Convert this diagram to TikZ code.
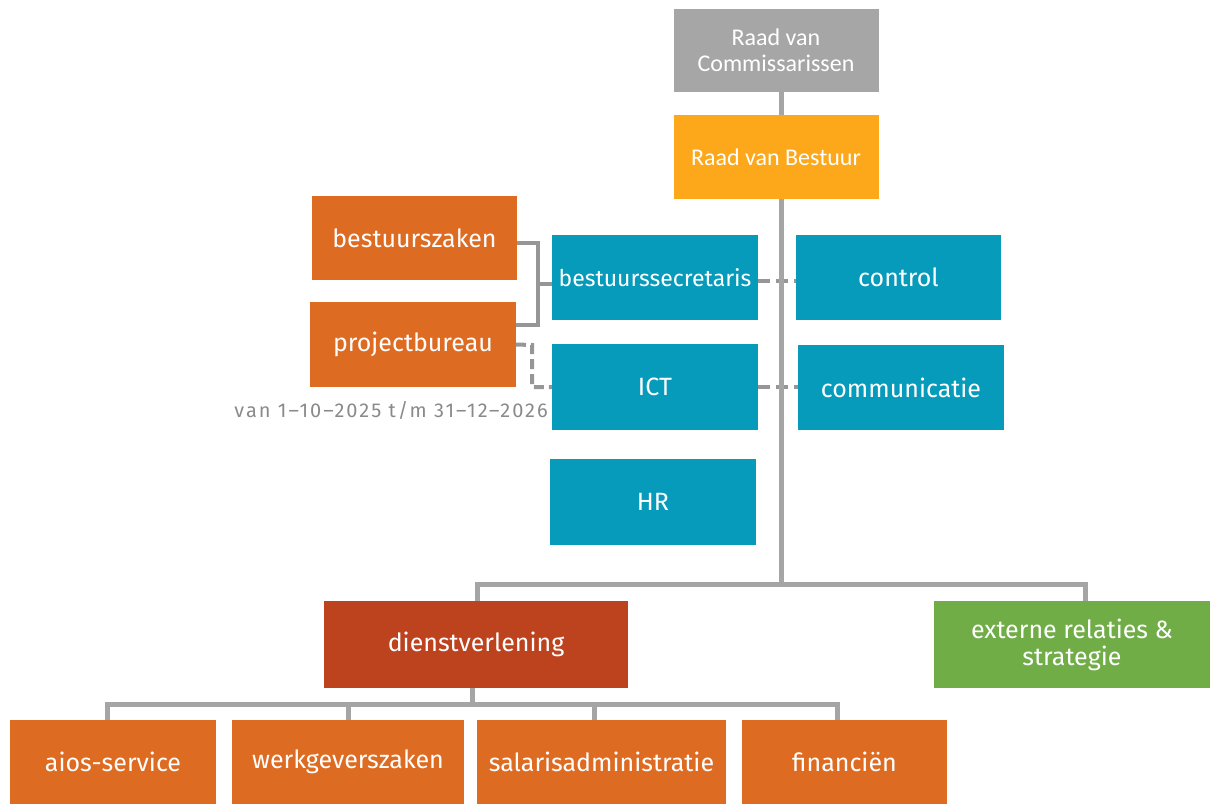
\documentclass[tikz,border=0pt]{standalone}
\usepackage{fontspec}
\setmainfont{Fira Sans}
\newfontfamily\rvfont{Carlito}
\newfontfamily\boxfont{Fira Sans}
\newfontfamily\notefont[LetterSpace=10]{Fira Sans}
\usetikzlibrary{calc}
\definecolor{lineGray}{HTML}{A5A5A5}
\definecolor{dashGray}{HTML}{969696}
\definecolor{rvcGray}{HTML}{A6A6A6}
\definecolor{rvbOrange}{HTML}{FCA81A}
\definecolor{boxOrange}{HTML}{DE6B22}
\definecolor{boxTeal}{HTML}{069BBB}
\definecolor{boxRust}{HTML}{BD431F}
\definecolor{boxGreen}{HTML}{70AD47}
\definecolor{noteGray}{HTML}{8A8A8A}
\tikzset{
  box/.style={rectangle, inner sep=0pt, outer sep=0pt, text=white, align=center,
    font=\boxfont\fontsize{25}{27}\selectfont},
  rvbox/.style={box, font=\rvfont\fontsize{24}{26}\selectfont},
  sz/.style 2 args={minimum width=#1pt, minimum height=#2pt},
  conn/.style={draw=lineGray, line width=5pt},
  bracketline/.style={draw=dashGray, line width=4pt},
  dashline/.style={draw=dashGray, line width=4pt, dash pattern=on 12pt off 6pt},
}
\begin{document}
\begin{tikzpicture}[x=1pt,y=-1pt]
\useasboundingbox (0,0) rectangle (1210,804);

% top
\node[rvbox, fill=rvcGray, sz={205}{83}] (rvc) at (776,50.5) {Raad van\\Commissarissen};
\node[rvbox, fill=rvbOrange, sz={205}{84}] (rvb) at (776,157) {Raad van Bestuur};

% staff
\node[box, fill=boxOrange, sz={205}{84}] (bz) at (414.5,238) {bestuurszaken};
\node[box, fill=boxOrange, sz={206}{85}] (pb) at (413,344.5) {projectbureau};
\node[box, fill=boxTeal, sz={206}{85}, font=\boxfont\fontsize{23}{25}\selectfont] (bs) at (655,277.5) {bestuurssecretaris};
\node[box, fill=boxTeal, sz={206}{86}] (ict) at (655,387) {ICT};
\node[box, fill=boxTeal, sz={206}{86}] (hr) at (653,502) {HR};
\node[box, fill=boxTeal, sz={205}{85}] (ctrl) at (898.5,277.5) {control};
\node[box, fill=boxTeal, sz={206}{85}] (comm) at (901,387.5) {communicatie};
\node[anchor=base east, inner sep=0pt, text=noteGray, font=\notefont\fontsize{20}{22}\selectfont] (note) at (548,417) {van 1–10–2025 t/m 31–12–2026};

% departments
\node[box, fill=boxRust, sz={304}{87}] (dv) at (476,644.5) {dienstverlening};
\node[box, fill=boxGreen, sz={276}{87}] (ext) at (1072,644.5) {externe relaties \&\\strategie};

\node[box, fill=boxOrange, sz={206}{84}] (aios) at (113,762) {aios-service};
\node[box, fill=boxOrange, sz={232}{84}] (werk) at (348,762) {werkgeverszaken};
\node[box, fill=boxOrange, sz={249}{84}] (sal) at (601.5,762) {salarisadministratie};
\node[box, fill=boxOrange, sz={205}{84}] (fin) at (844.5,762) {financiën};

% coordinates
\coordinate (tr) at (781,584);
\coordinate (tl) at (477,584);
\coordinate (trr) at (1085,584);
\coordinate (bh) at (472,704);
\coordinate (bhl) at (107,704);
\coordinate (bhr) at (837,704);

% dashed staff links (behind trunk)
\draw[dashline] ([yshift=-3.5pt]bs.east) -- ([yshift=-3.5pt]bs.east -| ctrl.west);
\draw[dashline] (ict.east) -- (ict.east -| comm.west);

% trunk
\draw[conn] (rvc.south -| tr) -- (rvb.north -| tr);
\draw[conn] (rvb.south -| tr) -- (tr);
\draw[conn, line cap=rect] (tl) -- (trr);
\draw[conn] (tl) -- (dv.north -| tl);
\draw[conn] (trr) -- (ext.north -| trr);

% lower tree
\draw[conn] (dv.south -| bh) -- (bh);
\draw[conn, line cap=rect] (bhl) -- (bhr);
\draw[conn] (bhl) -- (aios.north -| bhl);
\draw[conn] (werk.north |- bh) -- (werk.north);
\draw[conn] (594,704) -- (sal.north -| 594,0);
\draw[conn] (bhr) -- (fin.north -| bhr);

% bracket
\coordinate (bkt) at (538,243);
\coordinate (bkb) at (538,325);
\coordinate (bkm) at (538,284);
\draw[bracketline, line join=miter] (bz.east |- bkt) -- (bkt) -- (bkb) -- (pb.east |- bkb);
\draw[bracketline] (bkm) -- (bkm -| bs.west);

% dashed projectbureau - ICT
\coordinate (dj) at (532,345);
\draw[dashline, dash pattern=on 10pt off 5pt] (pb.east) -- (dj) |- (ict.west);
\end{tikzpicture}
\end{document}
